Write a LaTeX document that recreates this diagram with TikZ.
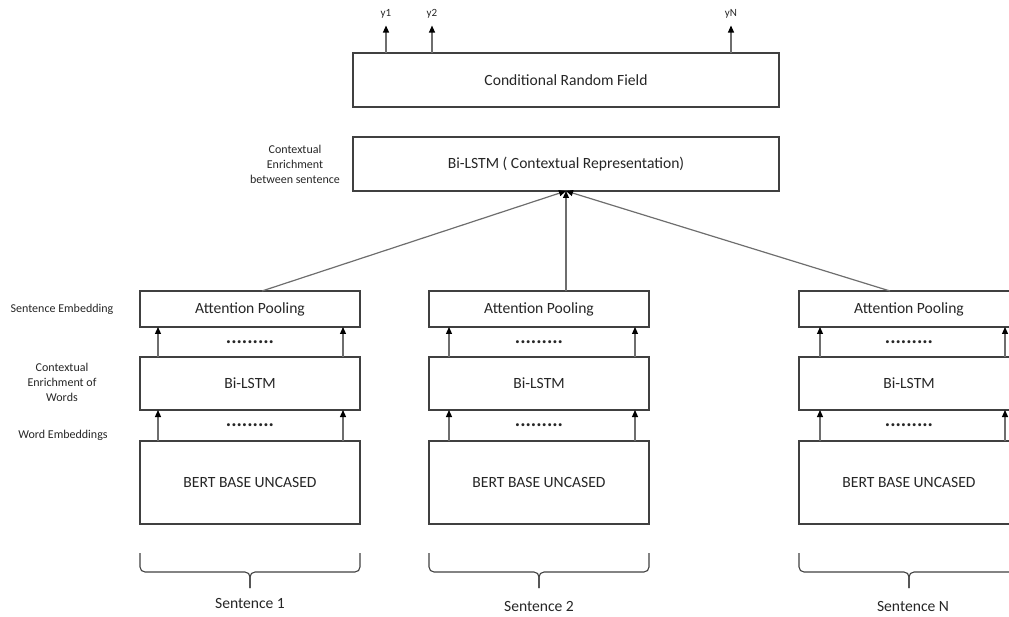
\documentclass[tikz,border=0pt]{standalone}
\usepackage{fontspec}
\setmainfont{Carlito}
\usepackage{tikz}
\usetikzlibrary{arrows.meta}
\usetikzlibrary{positioning}
\usetikzlibrary{calc}
\definecolor{boxline}{HTML}{404040}
\definecolor{arrline}{HTML}{6E6E6E}
\definecolor{txt}{HTML}{262626}
\tikzset{
    layer/.style={draw=boxline, line width=1.2pt, outer sep=0pt, minimum width=220pt, text=txt, font=\fontsize{15.6}{18}\selectfont},
    wide/.style={layer, minimum width=426pt, minimum height=54pt},
    side/.style={align=center, text=txt, font=\fontsize{12}{15}\selectfont},
    ylab/.style={text=txt, inner xsep=2pt, inner ysep=6.5pt, font=\fontsize{11}{13}\selectfont},
    sent/.style={text=txt, font=\fontsize{15.6}{18}\selectfont},
    dots/.style={text=txt, font=\bfseries\fontsize{20}{20}\selectfont},
    sentbrace/.style={-, draw=boxline, line width=1.1pt, rounded corners=5pt},
  }
\begin{document}
\begin{tikzpicture}[x=1pt,y=-1pt,->,>={Triangle[length=7pt,width=6pt,color=black]},line width=1.2pt,draw=arrline]
  \clip (0,0) rectangle (1009,617);

  % sentence columns
  \node[layer, minimum height=83pt] (bert1) at (250,482.5) {BERT BASE UNCASED};
  \node[layer, minimum height=53pt] (lstm1) [above=31pt of bert1] {Bi-LSTM};
  \node[layer, minimum height=36pt] (pool1) [above=30pt of lstm1] {Attention Pooling};

  \node[layer, minimum height=83pt] (bert2) at (539,482.5) {BERT BASE UNCASED};
  \node[layer, minimum height=53pt] (lstm2) [above=31pt of bert2] {Bi-LSTM};
  \node[layer, minimum height=36pt] (pool2) [above=30pt of lstm2] {Attention Pooling};

  \node[layer, minimum height=83pt] (bert3) at (909,482.5) {BERT BASE UNCASED};
  \node[layer, minimum height=53pt] (lstm3) [above=31pt of bert3] {Bi-LSTM};
  \node[layer, minimum height=36pt] (pool3) [above=30pt of lstm3] {Attention Pooling};

  \node[dots] (wd1) at ($(bert1.north)!0.5!(lstm1.south)$) {.........};
  \node[dots] (sd1) at ($(lstm1.north)!0.5!(pool1.south)$) {.........};
  \node[dots] (wd2) at ($(bert2.north)!0.5!(lstm2.south)$) {.........};
  \node[dots] (sd2) at ($(lstm2.north)!0.5!(pool2.south)$) {.........};
  \node[dots] (wd3) at ($(bert3.north)!0.5!(lstm3.south)$) {.........};
  \node[dots] (sd3) at ($(lstm3.north)!0.5!(pool3.south)$) {.........};

  \draw ([xshift=-92pt]bert1.north) -- ([xshift=-92pt]lstm1.south);
  \draw ([xshift=93pt]bert1.north) -- ([xshift=93pt]lstm1.south);
  \draw ([xshift=-92pt]lstm1.north) -- ([xshift=-92pt]pool1.south);
  \draw ([xshift=93pt]lstm1.north) -- ([xshift=93pt]pool1.south);
  \draw ([xshift=-90pt]bert2.north) -- ([xshift=-90pt]lstm2.south);
  \draw ([xshift=96pt]bert2.north) -- ([xshift=96pt]lstm2.south);
  \draw ([xshift=-90pt]lstm2.north) -- ([xshift=-90pt]pool2.south);
  \draw ([xshift=96pt]lstm2.north) -- ([xshift=96pt]pool2.south);
  \draw ([xshift=-89pt]bert3.north) -- ([xshift=-89pt]lstm3.south);
  \draw ([xshift=96pt]bert3.north) -- ([xshift=96pt]lstm3.south);
  \draw ([xshift=-89pt]lstm3.north) -- ([xshift=-89pt]pool3.south);
  \draw ([xshift=96pt]lstm3.north) -- ([xshift=96pt]pool3.south);

  % braces under the columns
  \draw[sentbrace] ($(bert1.south west)+(0,29)$) |- ($(bert1.south)+(0,48)$) -- ($(bert1.south)+(0,64)$);
  \draw[sentbrace] ($(bert1.south east)+(0,29)$) |- ($(bert1.south)+(0,48)$) -- ($(bert1.south)+(0,64)$);
  \draw[sentbrace] ($(bert2.south west)+(0,29)$) |- ($(bert2.south)+(0,48)$) -- ($(bert2.south)+(0,64)$);
  \draw[sentbrace] ($(bert2.south east)+(0,29)$) |- ($(bert2.south)+(0,48)$) -- ($(bert2.south)+(0,64)$);
  \draw[sentbrace] ($(bert3.south west)+(0,29)$) |- ($(bert3.south)+(0,48)$) -- ($(bert3.south)+(0,64)$);
  \draw[sentbrace] ($(bert3.south east)+(0,29)$) |- ($(bert3.south)+(0,48)$) -- ($(bert3.south)+(0,64)$);
  \node[sent] (sent1) at ($(bert1.south)+(0,79)$) {Sentence 1};
  \node[sent] (sent2) at ($(bert2.south)+(0,82)$) {Sentence 2};
  \node[sent] (sentN) at ($(bert3.south)+(4,82)$) {Sentence N};

  % sentence level
  \node[wide] (ctx) at (566,164) {Bi-LSTM ( Contextual Representation)};
  \node[wide] (crf) [above=30pt of ctx] {Conditional Random Field};

  \draw ([xshift=12pt]pool1.north) -- (ctx.south);
  \draw ([xshift=27pt]pool2.north) -- (ctx.south);
  \draw ([xshift=-19pt]pool3.north) -- (ctx.south);

  \node[ylab] (y1) at (386,14) {y1};
  \node[ylab] (y2) at (432,14) {y2};
  \node[ylab] (yN) at (731,14) {yN};
  \draw (crf.north west -| y1) -- (y1);
  \draw (crf.north west -| y2) -- (y2);
  \draw (crf.north west -| yN) -- (yN);

  % layer descriptions
  \node[side] (lctx) at (295,164) {Contextual\\Enrichment\\between sentence};
  \node[side] (lsent) at (62,309) {Sentence Embedding};
  \node[side] (lenr) at (62,382) {Contextual\\Enrichment of\\Words};
  \node[side] (lword) at (63,435) {Word Embeddings};
\end{tikzpicture}
\end{document}
